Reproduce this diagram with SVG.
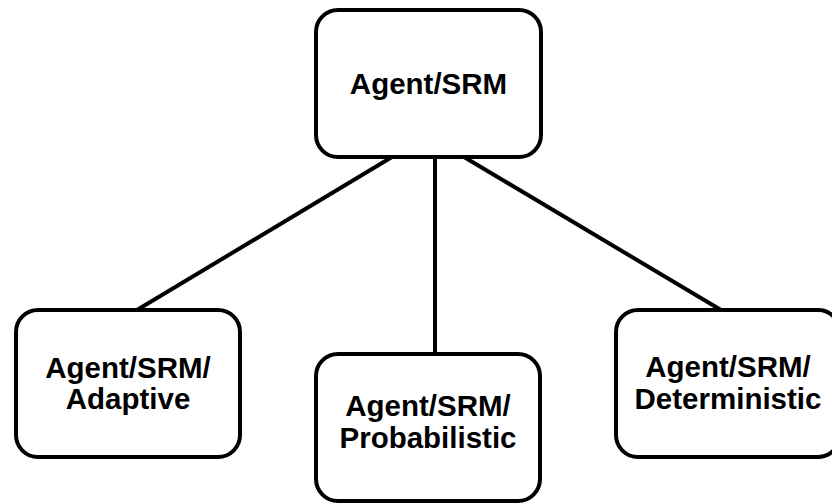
<svg xmlns="http://www.w3.org/2000/svg" width="832" height="504" viewBox="0 0 832 504">
<style>
.box{fill:#fff;stroke:#000;stroke-width:4}
.lbl{font-family:"Liberation Sans",Arial,sans-serif;font-weight:bold;font-size:29.5px;text-anchor:middle;fill:#000}
.edge{stroke:#000;stroke-width:4;fill:none}
</style>
<rect width="832" height="504" fill="#fff"/>
<g id="connectors">
<line class="edge" x1="392" y1="157" x2="137" y2="310"/>
<line class="edge" x1="435" y1="157" x2="435" y2="354"/>
<line class="edge" x1="464" y1="157" x2="721" y2="310"/>
</g>
<g id="root">
<rect class="box" x="316" y="10" width="225" height="147" rx="22"/>
<text class="lbl" x="428.5" y="94">Agent/SRM</text>
</g>
<g id="adaptive">
<rect class="box" x="16" y="310" width="224" height="147" rx="22"/>
<text class="lbl" x="128" y="378">Agent/SRM/</text>
<text class="lbl" x="128" y="409">Adaptive</text>
</g>
<g id="probabilistic">
<rect class="box" x="316" y="354" width="224" height="147" rx="22"/>
<text class="lbl" x="428" y="416">Agent/SRM/</text>
<text class="lbl" x="428" y="448">Probabilistic</text>
</g>
<g id="deterministic">
<rect class="box" x="616" y="310" width="224" height="147" rx="22"/>
<text class="lbl" x="728" y="377">Agent/SRM/</text>
<text class="lbl" x="728" y="409">Deterministic</text>
</g>
</svg>
